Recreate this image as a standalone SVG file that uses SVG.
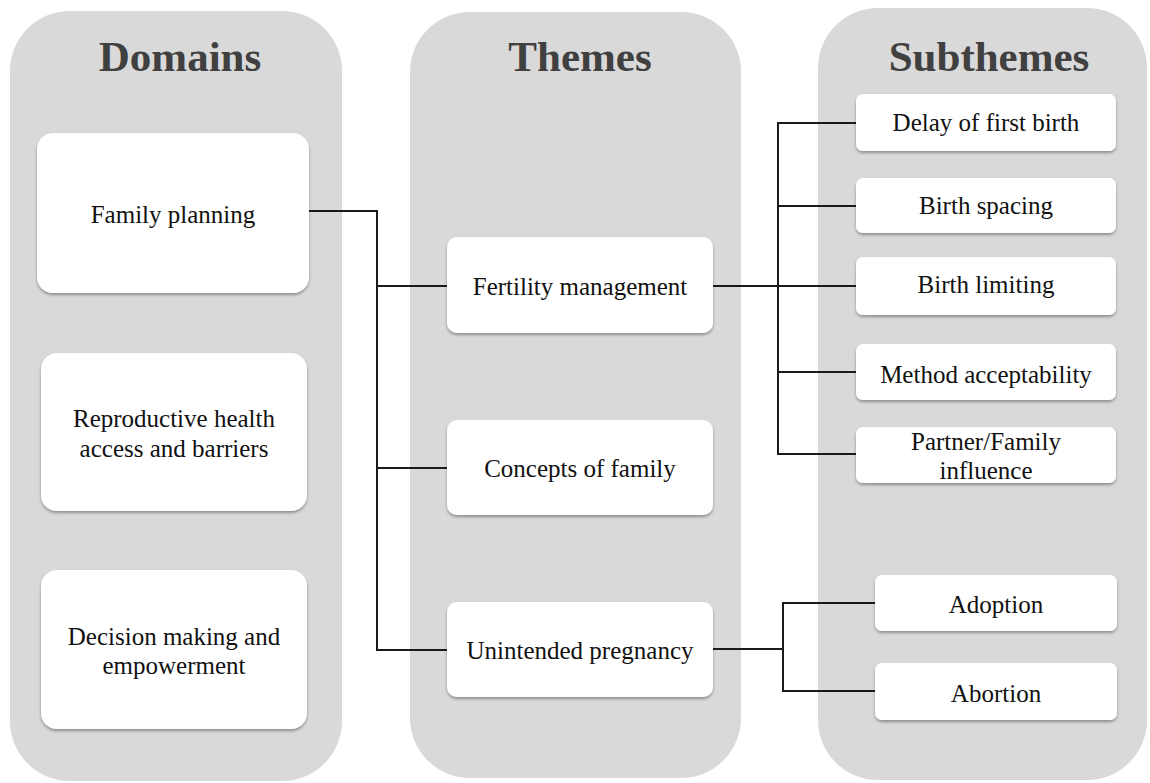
<svg xmlns="http://www.w3.org/2000/svg" width="1150" height="783" viewBox="0 0 1150 783">
<defs>
<filter id="sh" x="-10%" y="-10%" width="120%" height="130%">
<feDropShadow dx="0" dy="2" stdDeviation="1.5" flood-color="#000" flood-opacity="0.35"/>
</filter>
<style>
.panel{fill:#d9d9d9}
.box{fill:#fff;filter:url(#sh)}
.hdr{font-family:"Liberation Serif",serif;font-weight:bold;font-size:43px;fill:#404040;text-anchor:middle}
.t{font-family:"Liberation Serif",serif;font-size:25px;fill:#111;text-anchor:middle}
.c{fill:none;stroke:#1a1a1a;stroke-width:2}
</style>
</defs>
<rect width="1150" height="783" fill="#fff"/>
<g id="panels">
<rect class="panel" x="10" y="11" width="332" height="770" rx="60"/>
<rect class="panel" x="410" y="12" width="331" height="766" rx="60"/>
<rect class="panel" x="818" y="8" width="329" height="772" rx="60"/>
<text class="hdr" x="180" y="71">Domains</text>
<text class="hdr" x="580" y="71">Themes</text>
<text class="hdr" x="989" y="71">Subthemes</text>
</g>
<g id="connectors">
<polyline class="c" points="309,211 377,211 377,650 447,650"/>
<line class="c" x1="377" y1="286" x2="447" y2="286"/>
<line class="c" x1="377" y1="468" x2="447" y2="468"/>
<line class="c" x1="713" y1="286" x2="856" y2="286"/>
<polyline class="c" points="856,123 778,123 778,454 856,454"/>
<line class="c" x1="778" y1="206" x2="856" y2="206"/>
<line class="c" x1="778" y1="372" x2="856" y2="372"/>
<line class="c" x1="711" y1="649" x2="783" y2="649"/>
<polyline class="c" points="875,603 783,603 783,691 875,691"/>
</g>
<g id="d1"><rect class="box" x="37" y="133" width="272" height="160" rx="16"/><text class="t" x="173" y="223">Family planning</text></g>
<g id="d2"><rect class="box" x="41" y="353" width="266" height="158" rx="16"/><text class="t" x="174" y="427">Reproductive health</text><text class="t" x="174" y="457">access and barriers</text></g>
<g id="d3"><rect class="box" x="41" y="570" width="266" height="159" rx="16"/><text class="t" x="174" y="645">Decision making and</text><text class="t" x="174" y="674">empowerment</text></g>
<g id="t1"><rect class="box" x="447" y="237" width="266" height="96" rx="10"/><text class="t" x="580" y="295">Fertility management</text></g>
<g id="t2"><rect class="box" x="447" y="420" width="266" height="95" rx="10"/><text class="t" x="580" y="477">Concepts of family</text></g>
<g id="t3"><rect class="box" x="447" y="602" width="266" height="95" rx="10"/><text class="t" x="580" y="659">Unintended pregnancy</text></g>
<g id="s1"><rect class="box" x="856" y="94" width="260" height="57" rx="7"/><text class="t" x="986" y="131">Delay of first birth</text></g>
<g id="s2"><rect class="box" x="856" y="178" width="260" height="55" rx="7"/><text class="t" x="986" y="214">Birth spacing</text></g>
<g id="s3"><rect class="box" x="856" y="257" width="260" height="58" rx="7"/><text class="t" x="986" y="293">Birth limiting</text></g>
<g id="s4"><rect class="box" x="856" y="344" width="260" height="56" rx="7"/><text class="t" x="986" y="383">Method acceptability</text></g>
<g id="s5"><rect class="box" x="856" y="427" width="260" height="56" rx="7"/><text class="t" x="986" y="450">Partner/Family</text><text class="t" x="986" y="479">influence</text></g>
<g id="s6"><rect class="box" x="875" y="575" width="242" height="56" rx="7"/><text class="t" x="996" y="613">Adoption</text></g>
<g id="s7"><rect class="box" x="875" y="663" width="242" height="57" rx="7"/><text class="t" x="996" y="702">Abortion</text></g>
</svg>
